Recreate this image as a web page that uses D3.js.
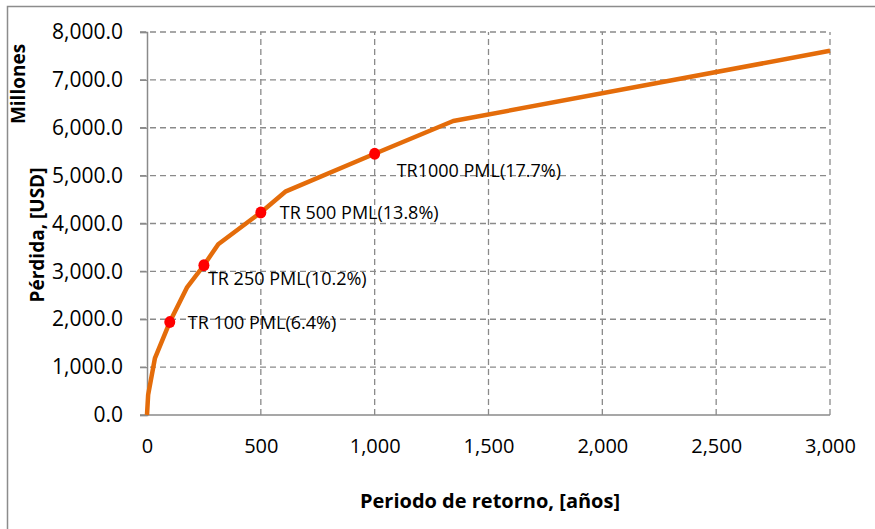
<!DOCTYPE html>
<html>
<head>
<meta charset="utf-8">
<script src="https://cdn.jsdelivr.net/npm/d3@7/dist/d3.min.js"></script>
<style>
  html, body { margin: 0; padding: 0; background: #fff; }
  svg { display: block; font-family: "Open Sans", "DejaVu Sans", sans-serif; }
</style>
</head>
<body>
<svg id="chart" width="875" height="529"></svg>
<script>
// ---- data ----
const returnPeriods = [0, 5, 35, 100, 175, 250, 313, 500, 610, 1000, 1345, 3000];
const losses = [0, 420, 1190, 1940, 2660, 3128, 3568, 4231, 4672, 5456, 6140, 7607];
const markerPeriods = [100, 250, 500, 1000];
const markerLosses = [1940, 3128, 4231, 5456];
const markerLabels = ["TR 100 PML(6.4%)", "TR 250 PML(10.2%)", "TR 500 PML(13.8%)", "TR1000 PML(17.7%)"];
const xTicks = [0, 500, 1000, 1500, 2000, 2500, 3000];
const yTicks = [0, 1000, 2000, 3000, 4000, 5000, 6000, 7000, 8000];
const xTitle = "Periodo de retorno, [años]";
const yTitle = "Pérdida, [USD]";
const yUnit = "Millones";

// ---- layout ----
const W = 875, H = 529;
const m = { left: 147, right: 45, top: 32, bottom: 114 };
const svg = d3.select("#chart");
const x = d3.scaleLinear().domain([0, 3000]).range([m.left, W - m.right]);
const y = d3.scaleLinear().domain([0, 8000]).range([H - m.bottom, m.top]);

// outer chart border
svg.append("rect").attr("x", 7.5).attr("y", 6.5).attr("width", 880).attr("height", 540)
  .attr("fill", "none").attr("stroke", "#8c8c8c").attr("stroke-width", 1.5);

const gridColor = "#8a8a8a";
// horizontal grid lines
svg.append("g").selectAll("line").data(yTicks.filter(d => d > 0)).join("line")
  .attr("x1", x(0) - 7).attr("x2", x(3000))
  .attr("y1", d => y(d)).attr("y2", d => y(d))
  .attr("stroke", gridColor).attr("stroke-width", 1.3).attr("stroke-dasharray", "6,4");
// vertical grid lines
svg.append("g").selectAll("line").data(xTicks.filter(d => d > 0)).join("line")
  .attr("x1", d => x(d)).attr("x2", d => x(d))
  .attr("y1", y(0)).attr("y2", y(8000))
  .attr("stroke", gridColor).attr("stroke-width", 1.3).attr("stroke-dasharray", "6,4");

// y axis
const yAxis = d3.axisLeft(y).tickValues(yTicks).tickSize(7).tickPadding(17)
  .tickFormat(d => d3.format(",.1f")(d));
const gy = svg.append("g").attr("transform", `translate(${x(0)},0)`).call(yAxis);
gy.select(".domain").attr("stroke", "#8a8a8a").attr("stroke-width", 1.5);
gy.selectAll(".tick line").attr("stroke", "#8a8a8a").attr("stroke-width", 1.3);
gy.selectAll(".tick text").attr("font-size", 21).attr("fill", "#000")
  .attr("font-family", "'Open Sans', sans-serif");

// x axis
const xAxis = d3.axisBottom(x).tickValues(xTicks).tickSize(0).tickPadding(24)
  .tickFormat(d3.format(","));
const gx = svg.append("g").attr("transform", `translate(0,${y(0)})`).call(xAxis);
gx.select(".domain").attr("stroke", "#8a8a8a").attr("stroke-width", 1.5)
  .attr("d", `M${x(0) - 7},0H${x(3000)}`);
gx.selectAll(".tick text").attr("font-size", 20).attr("fill", "#000")
  .attr("font-family", "'Open Sans', sans-serif");

// line
const line = d3.line().x((d, i) => x(returnPeriods[i])).y((d, i) => y(losses[i]));
svg.append("path").datum(losses).attr("d", line)
  .attr("fill", "none").attr("stroke", "#E46C0A").attr("stroke-width", 4.5)
  .attr("stroke-linejoin", "round");

// markers
const markerData = markerPeriods.map((p, i) => ({ p, l: markerLosses[i], t: markerLabels[i] }));
svg.append("g").selectAll("ellipse").data(markerData).join("ellipse")
  .attr("cx", d => x(d.p)).attr("cy", d => y(d.l)).attr("rx", 5.5).attr("ry", 6)
  .attr("fill", "#FF0000");

// labels
const labelOffsets = [[18, 7], [4, 20], [19, 7], [22, 23]];
svg.append("g").selectAll("text").data(markerData).join("text")
  .attr("x", (d, i) => x(d.p) + labelOffsets[i][0])
  .attr("y", (d, i) => y(d.l) + labelOffsets[i][1])
  .attr("font-size", 18).attr("fill", "#000")
  .text(d => d.t);

// axis titles
svg.append("text").attr("x", 490).attr("y", 508)
  .attr("text-anchor", "middle").attr("font-size", 20).attr("font-weight", "bold")
  .text(xTitle);
svg.append("text").attr("transform", "translate(44,235) rotate(-90)")
  .attr("text-anchor", "middle").attr("font-size", 19).attr("font-weight", "bold")
  .text(yTitle);
svg.append("text").attr("transform", "translate(25,84) rotate(-90)")
  .attr("text-anchor", "middle").attr("font-size", 19).attr("font-weight", "bold")
  .text(yUnit);
</script>
</body>
</html>
